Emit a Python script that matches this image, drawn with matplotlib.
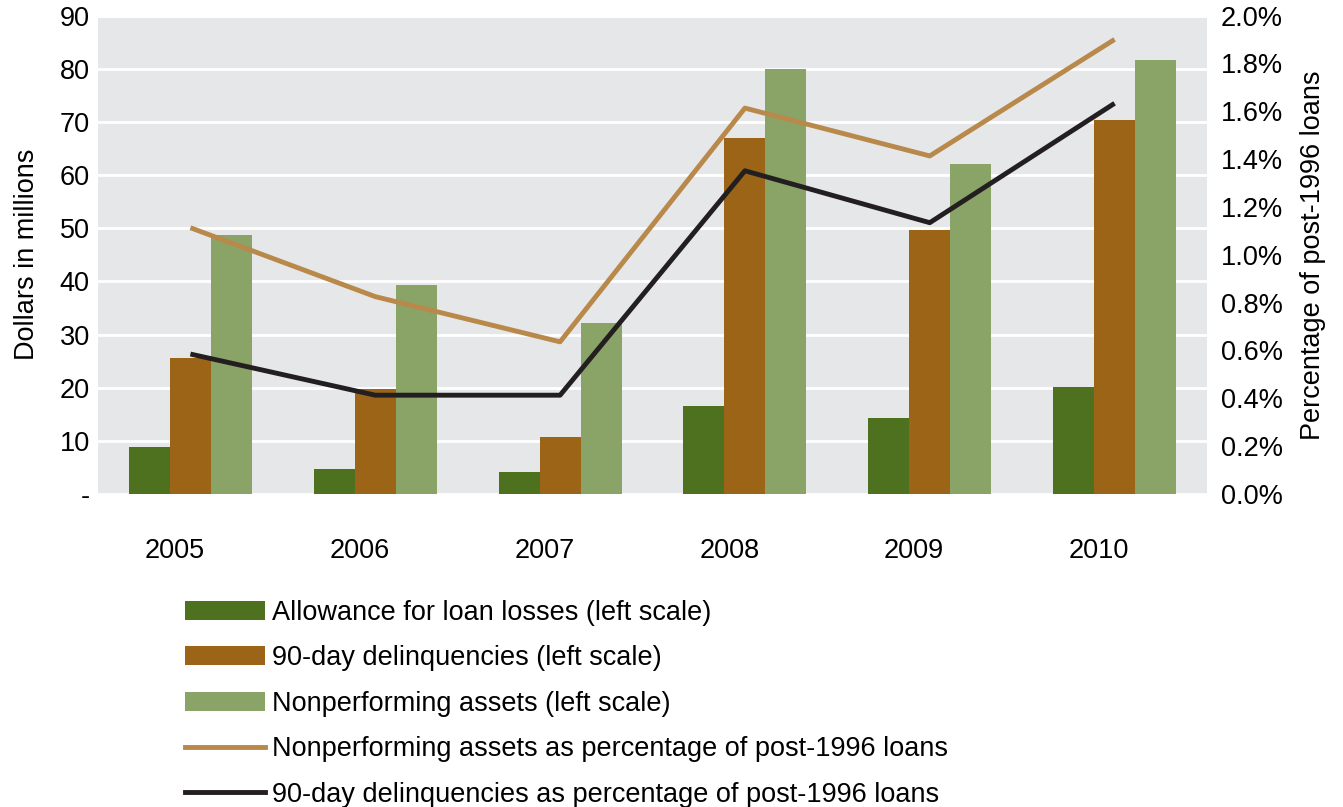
import matplotlib
matplotlib.use("Agg")
import matplotlib.pyplot as plt
from matplotlib.patches import Patch
from matplotlib.lines import Line2D
import numpy as np

plt.rcParams['font.family'] = ['Liberation Sans', 'DejaVu Sans']

years = ['2005', '2006', '2007', '2008', '2009', '2010']
allowance = [8.8, 4.7, 4.2, 16.6, 14.3, 20.2]
delinq = [25.5, 19.7, 10.8, 67.0, 49.6, 70.3]
nonperf = [48.8, 39.3, 32.2, 79.9, 62.0, 81.7]
nonperf_pct = [1.113, 0.825, 0.636, 1.613, 1.413, 1.90]
delinq_pct = [0.585, 0.413, 0.413, 1.351, 1.134, 1.633]

left_ticks = [0, 10, 20, 30, 40, 50, 60, 70, 80, 90]
left_labels = ['-', '10', '20', '30', '40', '50', '60', '70', '80', '90']
right_ticks = [0.0, 0.2, 0.4, 0.6, 0.8, 1.0, 1.2, 1.4, 1.6, 1.8, 2.0]
right_labels = ['%.1f%%' % v for v in right_ticks]

c_allow = '#4D711E'
c_delinq = '#9C6417'
c_nonperf = '#8AA367'
c_tan = '#B8894A'
c_black = '#231F20'
bg = '#E6E7E9'

fs = 19.5

fig = plt.figure(figsize=(13.43, 8.07), dpi=100)
ax = fig.add_axes([98/1343, 1-494/807, (1207-98)/1343, (494-15.5)/807])
ax.set_facecolor(bg)
x = np.arange(len(years))
w = 0.222
ax.bar(x - w, allowance, w, color=c_allow, zorder=3, linewidth=0)
ax.bar(x, delinq, w, color=c_delinq, zorder=3, linewidth=0)
ax.bar(x + w, nonperf, w, color=c_nonperf, zorder=3, linewidth=0)

ax.set_ylim(0, 90)
ax.set_xlim(-0.5, len(years) - 0.5)
ax.set_yticks(left_ticks)
ax.set_yticklabels(left_labels, fontsize=fs)
ax.set_xticks(x - 0.085)
ax.set_xticklabels(years, fontsize=fs)
ax.tick_params(axis='x', length=0, pad=32)
ax.tick_params(axis='y', length=0, pad=6)
ax.yaxis.grid(True, color='white', linewidth=2, zorder=1)
ax.set_axisbelow(True)
for s in ax.spines.values():
    s.set_visible(False)
ax.set_ylabel('Dollars in millions', fontsize=fs, labelpad=14)

ax2 = ax.twinx()
ax2.plot(x, nonperf_pct, color=c_tan, linewidth=3.5, zorder=4, solid_capstyle='butt')
ax2.plot(x, delinq_pct, color=c_black, linewidth=3.5, zorder=4, solid_capstyle='butt')
ax2.set_ylim(0, 2.0)
ax2.set_yticks(right_ticks)
ax2.set_yticklabels(right_labels, fontsize=fs)
ax2.tick_params(axis='y', length=0, pad=10)
for s in ax2.spines.values():
    s.set_visible(False)
ax2.set_ylabel('Percentage of post-1996 loans', fontsize=fs, labelpad=12)

handles = [
    Patch(facecolor=c_allow, edgecolor='none'),
    Patch(facecolor=c_delinq, edgecolor='none'),
    Patch(facecolor=c_nonperf, edgecolor='none'),
    Line2D([0], [0], color=c_tan, linewidth=3.5),
    Line2D([0], [0], color=c_black, linewidth=3.5),
]
labels = [
    'Allowance for loan losses (left scale)',
    '90-day delinquencies (left scale)',
    'Nonperforming assets (left scale)',
    'Nonperforming assets as percentage of post-1996 loans',
    '90-day delinquencies as percentage of post-1996 loans',
]
fig.legend(handles, labels, loc='upper left', bbox_to_anchor=(174/1343, 1-589/807),
           frameon=False, fontsize=fs, handlelength=2.95, handleheight=0.7,
           labelspacing=0.72, handletextpad=0.26, borderaxespad=0)

fig.savefig('out.png', dpi=100)
